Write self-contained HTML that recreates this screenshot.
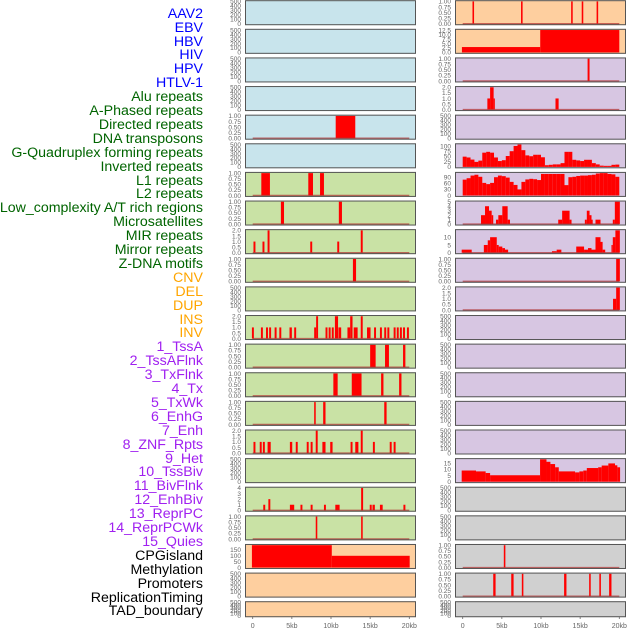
<!DOCTYPE html>
<html><head><meta charset="utf-8">
<style>
body{margin:0;background:#fff;}
#wrap{position:relative;width:630px;height:630px;overflow:hidden;font-family:"Liberation Sans",sans-serif;}
.lbl{position:absolute;right:427px;font-size:14.2px;line-height:14px;white-space:nowrap;}
</style></head>
<body>
<div id="wrap">
<svg id="chart" width="630" height="630" style="position:absolute;left:0;top:0"></svg>
</div>
<script>
// ---- labels ----
const labelNames = ["AAV2","EBV","HBV","HIV","HPV","HTLV-1","Alu repeats","A-Phased repeats","Directed repeats","DNA transposons","G-Quadruplex forming repeats","Inverted repeats","L1 repeats","L2 repeats","Low_complexity A/T rich regions","Microsatellites","MIR repeats","Mirror repeats","Z-DNA motifs","CNV","DEL","DUP","INS","INV","1_TssA","2_TssAFlnk","3_TxFlnk","4_Tx","5_TxWk","6_EnhG","7_Enh","8_ZNF_Rpts","9_Het","10_TssBiv","11_BivFlnk","12_EnhBiv","13_ReprPC","14_ReprPCWk","15_Quies","CPGisland","Methylation","Promoters","ReplicationTiming","TAD_boundary"];
const labelColors = ["#0000ff","#0000ff","#0000ff","#0000ff","#0000ff","#0000ff","#006400","#006400","#006400","#006400","#006400","#006400","#006400","#006400","#006400","#006400","#006400","#006400","#006400","#ffa500","#ffa500","#ffa500","#ffa500","#ffa500","#a020f0","#a020f0","#a020f0","#a020f0","#a020f0","#a020f0","#a020f0","#a020f0","#a020f0","#a020f0","#a020f0","#a020f0","#a020f0","#a020f0","#a020f0","#000","#000","#000","#000","#000"];

// ---- x axis ----
const xTickValues = [0,5,10,15,20];
const xTickLabels = ["0","5kb","10kb","15kb","20kb"];

// ---- y tick sets ----
const ticksEmpty = [0,100,200,300,400,500];
const ticksEmptyLabels = ["0","100","200","300","400","500"];
const ticksOne = [0,0.25,0.5,0.75,1];
const ticksOneLabels = ["0.00","0.25","0.50","0.75","1.00"];
const ticksTwo = [0,0.5,1,1.5,2];
const ticksTwoLabels = ["0.0","0.5","1.0","1.5","2.0"];
const ticksFour = [0,1,2,3,4];
const ticksFourLabels = ["0","1","2","3","4"];
const ticksFive = [0,1,2,3,4,5];
const ticksFiveLabels = ["0","1","2","3","4","5"];
const ticksCNV = [0,50,100,150];
const ticksCNVLabels = ["0","50","100","150"];
const ticksINV = [0,2.5,5,7.5,10,12.5];
const ticksINVLabels = ["0.0","2.5","5.0","7.5","10.0","12.5"];
const ticksTx = [0,25,50,75,100];
const ticksTxLabels = ["0","25","50","75","100"];
const ticksTxWk = [0,30,60,90];
const ticksTxWkLabels = ["0","30","60","90"];
const ticksEnh = [0,5,10];
const ticksEnhLabels = ["0","5","10"];
const ticksQuies = [0,5,10,15];
const ticksQuiesLabels = ["0","5","10","15"];

// ---- segment data [startKb, endKb, value] ----
const segHPV = [[10.6,13.1,1]];
const segAlu = [[1.1,2.2,1],[7.1,7.7,1],[8.6,9.1,1]];
const segAPhased = [[3.6,4.0,1],[11.0,11.4,1]];
const segDirected = [[0.1,0.35,1],[1.25,1.5,1],[1.9,2.15,2],[7.35,7.6,1],[10.8,11.05,1],[13.8,14.05,2]];
const segDNATrans = [[12.8,13.2,1]];
const segInverted = [[-0.1,0.15,1],[1.05,1.3,1],[1.7,1.95,1],[2.1,2.35,1],[2.8,3.05,1],[3.4,3.65,1],[4.7,5.0,1],[5.3,5.55,1],[7.85,8.1,1],[8.1,8.35,2],[9.3,9.55,1],[9.7,9.95,1],[10.1,10.35,1],[10.5,10.9,2],[10.95,11.3,1],[12.1,12.45,1],[12.45,12.75,2],[12.9,13.4,1],[13.8,14.05,2],[14.6,15.05,1],[15.5,15.75,1],[16.25,16.5,1],[16.8,17.05,1],[17.2,17.45,1],[18.0,18.25,1],[18.4,18.65,1],[18.8,19.05,1],[19.2,19.45,1],[19.7,19.95,1]];
const segL1 = [[15.0,15.7,1],[16.9,17.4,1],[19.2,19.5,1]];
const segL2 = [[10.3,10.85,1],[12.65,13.9,1],[16.4,16.7,1],[18.7,19.0,1]];
const segLowComplex = [[7.85,8.05,1],[9.0,9.3,1],[16.8,17.1,1]];
const segMicrosat = [[0.1,0.35,1],[0.9,1.15,1],[1.3,1.55,1],[1.9,2.3,1],[4.75,5.05,1],[5.5,5.75,1],[6.9,7.15,1],[7.4,7.65,1],[8.05,8.3,2],[8.9,9.3,1],[9.9,10.2,1],[12.5,12.75,1],[13.1,13.5,1],[13.8,14.05,2],[15.35,15.6,1],[17.5,17.75,1],[18.0,18.25,1]];
const segMirror = [[1.35,1.6,1],[2.0,2.25,2],[4.75,5.3,1],[6.1,6.35,1],[7.4,7.65,1],[9.1,9.35,1],[10.55,11.1,1],[13.85,14.1,4],[14.95,15.2,1],[15.3,15.6,1],[16.25,16.6,1],[19.25,19.5,1]];
const segZDNA = [[8.05,8.25,1],[13.85,14.05,1]];
const segCNV = [[-0.1,10.1,190],[10.1,20.05,100]];
const segINS = [[1.25,1.45,1],[7.45,7.65,1],[13.85,14.05,1],[15.2,15.4,1],[17.1,17.3,1]];
const segINV = [[-0.1,9.9,3],[9.9,20.0,12.5]];
const segTssA = [[15.95,16.2,1]];
const segTssAFlnk = [[3.15,3.5,1],[3.5,3.95,2],[3.95,4.1,1],[11.85,12.25,1]];
const valuesTx = [49,45,35,24,30,68,72,68,45,28,32,52,75,100,107,80,55,51,58,58,46,8,10,12,12,18,72,72,34,31,28,34,34,18,12,6,5,5,10,11];
const valuesTxWk = [78,85,98,102,92,62,56,62,90,98,95,88,67,52,30,67,79,82,80,76,106,106,106,106,106,106,51,90,92,96,98,98,100,102,108,110,110,106,104,92];
const segEnhG = [[2.34,2.85,2],[2.85,3.36,4],[3.36,3.7,3],[3.7,3.9,2],[4.25,4.55,1],[4.55,5.06,2],[5.06,5.74,4],[5.74,6.04,1],[12.2,12.7,1],[12.7,13.65,3],[13.65,13.9,1],[15.6,15.85,1],[15.85,16.2,3],[16.2,16.45,2],[16.45,16.6,1],[16.96,17.6,1],[19.17,19.43,1],[19.43,20.07,5]];
const segEnh = [[-0.13,1.15,2],[2.7,3.2,5],[3.2,3.5,8],[3.5,4.35,10],[4.35,4.6,5],[4.6,5.06,4],[5.06,5.4,3],[5.4,5.8,2],[11.4,12.0,1],[12.0,12.6,2],[14.5,15.5,4],[15.5,16.0,2],[16.0,16.45,3],[16.45,16.96,2],[16.96,17.6,10],[17.6,17.87,7],[17.87,18.2,2],[19.0,19.17,5],[19.17,19.5,10],[19.5,20.07,14.4]];
const segZNF = [[19.6,20.07,1]];
const segHet = [[19.2,19.6,1],[19.6,20.07,2]];
const segQuies = [[-0.13,1.7,9],[1.7,2.93,8.3],[2.93,3.5,7],[3.5,9.88,5.2],[9.88,10.7,18],[10.7,11.2,16],[11.2,11.8,14.2],[11.8,12.27,11.6],[12.27,14.35,8.3],[14.35,14.9,7.5],[14.9,15.4,8.3],[15.4,15.85,9],[15.85,17.3,11],[17.3,17.75,11.6],[17.75,18.6,13],[18.6,19.45,14.7],[19.45,19.75,13.2],[19.75,20.1,11.6]];
const segPromoters = [[5.25,5.45,1]];
const segRepTiming = [[3.9,4.2,1],[6.2,6.5,1],[7.55,7.75,1],[12.95,13.25,1],[16.15,16.35,1],[17.45,17.65,1],[18.7,19.0,1]];

const BLUE="#c8e4ec",GREEN="#c9e2a5",ORANGE="#fecf9f",PURPLE="#d7c6e2",GREY="#d0d0d0";
function binsToSegs(vals){return vals.map((v,i)=>[i*0.5,i*0.5+0.5,v]);}

const panels = [
 {c:0,r:0,bg:BLUE,name:"aav2"},{c:0,r:1,bg:BLUE,name:"ebv"},{c:0,r:2,bg:BLUE,name:"hbv"},{c:0,r:3,bg:BLUE,name:"hiv"},
 {c:0,r:4,bg:BLUE,name:"hpv",segs:segHPV,t:ticksOne,tl:ticksOneLabels,ymax:1,base:true},
 {c:0,r:5,bg:BLUE,name:"htlv-1"},
 {c:0,r:6,bg:GREEN,name:"alu-repeats",segs:segAlu,t:ticksOne,tl:ticksOneLabels,ymax:1,base:true},
 {c:0,r:7,bg:GREEN,name:"a-phased-repeats",segs:segAPhased,t:ticksOne,tl:ticksOneLabels,ymax:1,base:true},
 {c:0,r:8,bg:GREEN,name:"directed-repeats",segs:segDirected,t:ticksTwo,tl:ticksTwoLabels,ymax:2,base:true},
 {c:0,r:9,bg:GREEN,name:"dna-transposons",segs:segDNATrans,t:ticksOne,tl:ticksOneLabels,ymax:1,base:true},
 {c:0,r:10,bg:GREEN,name:"g-quadruplex"},
 {c:0,r:11,bg:GREEN,name:"inverted-repeats",segs:segInverted,t:ticksTwo,tl:ticksTwoLabels,ymax:2,base:true},
 {c:0,r:12,bg:GREEN,name:"l1-repeats",segs:segL1,t:ticksOne,tl:ticksOneLabels,ymax:1,base:true},
 {c:0,r:13,bg:GREEN,name:"l2-repeats",segs:segL2,t:ticksOne,tl:ticksOneLabels,ymax:1,base:true},
 {c:0,r:14,bg:GREEN,name:"low-complexity",segs:segLowComplex,t:ticksOne,tl:ticksOneLabels,ymax:1,base:true},
 {c:0,r:15,bg:GREEN,name:"microsatellites",segs:segMicrosat,t:ticksTwo,tl:ticksTwoLabels,ymax:2,base:true},
 {c:0,r:16,bg:GREEN,name:"mir-repeats"},
 {c:0,r:17,bg:GREEN,name:"mirror-repeats",segs:segMirror,t:ticksFour,tl:ticksFourLabels,ymax:4,base:true},
 {c:0,r:18,bg:GREEN,name:"z-dna-motifs",segs:segZDNA,t:ticksOne,tl:ticksOneLabels,ymax:1,base:true},
 {c:0,r:19,bg:ORANGE,name:"cnv",segs:segCNV,t:ticksCNV,tl:ticksCNVLabels,ymax:190},
 {c:0,r:20,bg:ORANGE,name:"del"},
 {c:0,r:21,bg:ORANGE,name:"dup"},
 {c:1,r:0,bg:ORANGE,name:"ins",segs:segINS,t:ticksOne,tl:ticksOneLabels,ymax:1,base:true},
 {c:1,r:1,bg:ORANGE,name:"inv",segs:segINV,t:ticksINV,tl:ticksINVLabels,ymax:12.5},
 {c:1,r:2,bg:PURPLE,name:"tssa",segs:segTssA,t:ticksOne,tl:ticksOneLabels,ymax:1,base:true},
 {c:1,r:3,bg:PURPLE,name:"tssaflnk",segs:segTssAFlnk,t:ticksTwo,tl:ticksTwoLabels,ymax:2,base:true},
 {c:1,r:4,bg:PURPLE,name:"txflnk"},
 {c:1,r:5,bg:PURPLE,name:"tx",segs:binsToSegs(valuesTx),t:ticksTx,tl:ticksTxLabels,ymax:107},
 {c:1,r:6,bg:PURPLE,name:"txwk",segs:binsToSegs(valuesTxWk),t:ticksTxWk,tl:ticksTxWkLabels,ymax:110},
 {c:1,r:7,bg:PURPLE,name:"enhg",segs:segEnhG,t:ticksFive,tl:ticksFiveLabels,ymax:5,base:true},
 {c:1,r:8,bg:PURPLE,name:"enh",segs:segEnh,t:ticksEnh,tl:ticksEnhLabels,ymax:14.4,base:true},
 {c:1,r:9,bg:PURPLE,name:"znf-rpts",segs:segZNF,t:ticksOne,tl:ticksOneLabels,ymax:1,base:true},
 {c:1,r:10,bg:PURPLE,name:"het",segs:segHet,t:ticksTwo,tl:ticksTwoLabels,ymax:2,base:true},
 {c:1,r:11,bg:PURPLE,name:"tssbiv"},{c:1,r:12,bg:PURPLE,name:"bivflnk"},{c:1,r:13,bg:PURPLE,name:"enhbiv"},
 {c:1,r:14,bg:PURPLE,name:"reprpc"},{c:1,r:15,bg:PURPLE,name:"reprpcwk"},
 {c:1,r:16,bg:PURPLE,name:"quies",segs:segQuies,t:ticksQuies,tl:ticksQuiesLabels,ymax:18},
 {c:1,r:17,bg:GREY,name:"cpgisland"},{c:1,r:18,bg:GREY,name:"methylation"},
 {c:1,r:19,bg:GREY,name:"promoters",segs:segPromoters,t:ticksOne,tl:ticksOneLabels,ymax:1,base:true},
 {c:1,r:20,bg:GREY,name:"replication-timing",segs:segRepTiming,t:ticksOne,tl:ticksOneLabels,ymax:1,base:true},
 {c:1,r:21,bg:GREY,name:"tad-boundary"}
];

const NS="http://www.w3.org/2000/svg";
const svg=document.getElementById('chart');
const colLeft=[245,455], colW=171, x0=[252.7,462.7], pxPerKb=7.83;
function mk(tag,attrs,parent){const e=document.createElementNS(NS,tag);for(const k in attrs)e.setAttribute(k,attrs[k]);(parent||svg).appendChild(e);return e;}
function xScale(c,kb){return x0[c]+kb*pxPerKb;}

panels.forEach(p=>{
  const top=0.2+p.r*28.62, h=(p.r===21)?16:25, L=colLeft[p.c];
  const ymax=p.ymax||500, ticks=p.t||ticksEmpty, tl=p.tl||ticksEmptyLabels;
  const yScale=v=>top+1.2+(1-v/ymax)*(h-2.6);
  const g=mk('g',{});
  
  
  const bg=mk('rect',{x:L,y:top,width:colW,height:h,fill:p.bg},g);
  
  
  if(p.segs){
    p.segs.forEach(s=>{
      const xa=Math.max(L,xScale(p.c,s[0])), xb=Math.min(L+colW,xScale(p.c,s[1]));
      const yv=Math.max(top,yScale(s[2])), yb=yScale(0);
      const b=mk('rect',{x:xa,y:yv,width:Math.max(1.2,xb-xa),height:Math.max(0,yb-yv),fill:'#ff0000'},g);
      
      
    });
    if(p.base){
      const ln=mk('line',{x1:xScale(p.c,0),x2:xScale(p.c,20),y1:yScale(0),y2:yScale(0),stroke:'#b03030','stroke-opacity':0.7,'stroke-width':1.5},g);
      
      
    }
  }
  const br=mk('rect',{x:L+0.5,y:top+0.5,width:colW-1,height:h-1,fill:'none',stroke:'#555','stroke-width':1},g);
  
  
  ticks.forEach((v,i)=>{
    const t=mk('text',{x:L-4,y:yScale(v)+2.3,'font-size':6.5,'text-anchor':'end',fill:'#666','font-family':'Liberation Sans, sans-serif'},g);
    t.textContent=tl[i];
    
    
  });
});

[0,1].forEach(c=>{
  xTickValues.forEach((v,i)=>{
    const x=xScale(c,v);
    const tk=mk('line',{x1:x,x2:x,y1:617,y2:619,stroke:'#666','stroke-width':0.8});
    
    
    const t=mk('text',{x:x,y:628,'font-size':7,'text-anchor':'middle',fill:'#666','font-family':'Liberation Sans, sans-serif'});
    t.textContent=xTickLabels[i];
    
    
  });
});

const wrap=document.getElementById('wrap');
labelNames.forEach((n,i)=>{
  const d=document.createElement('div');
  d.className='lbl';
  d.style.top=(14+i*13.9-7.3)+'px';
  d.style.color=labelColors[i];
  d.textContent=n;
  
  
  wrap.appendChild(d);
});
</script>
</body></html>
